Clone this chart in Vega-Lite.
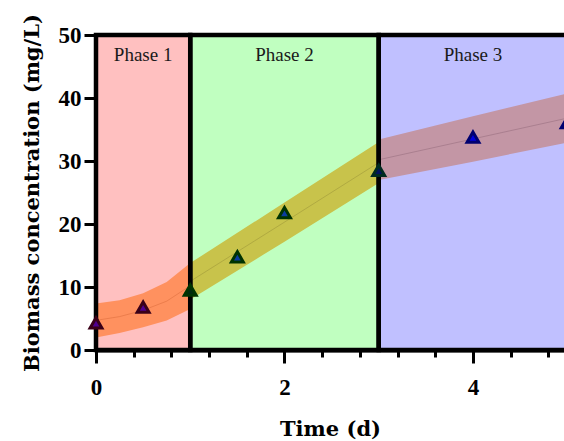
{
  "$schema": "https://vega.github.io/schema/vega-lite/v6.json",
  "autosize": {"type": "none"},
  "padding": {"left": 96, "top": 35, "right": 0, "bottom": 91},
  "width": 468,
  "height": 315,
  "background": "white",
  "config": {"view": {"stroke": null}},
  "datasets": {
    "phases": [
      {"phase": "Phase 1", "start": 0, "end": 1, "labelT": 0.5},
      {"phase": "Phase 2", "start": 1, "end": 3, "labelT": 2},
      {"phase": "Phase 3", "start": 3, "end": 6, "labelT": 4}
    ],
    "bands": [
      {"phase": "Phase 1", "t": 0, "lo": 2.0, "hi": 7.4, "mid": 4.7},
      {"phase": "Phase 1", "t": 0.25, "lo": 2.7, "hi": 7.9, "mid": 5.3},
      {"phase": "Phase 1", "t": 0.5, "lo": 3.6, "hi": 9.0, "mid": 6.3},
      {"phase": "Phase 1", "t": 0.75, "lo": 4.7, "hi": 10.8, "mid": 7.75},
      {"phase": "Phase 1", "t": 1.0, "lo": 6.5, "hi": 13.8, "mid": 10.2},
      {"phase": "Phase 2", "t": 1.0, "lo": 8.0, "hi": 13.8, "mid": 10.9},
      {"phase": "Phase 2", "t": 2.0, "lo": 17.2, "hi": 23.4, "mid": 20.3},
      {"phase": "Phase 2", "t": 3.0, "lo": 26.5, "hi": 33.0, "mid": 29.75},
      {"phase": "Phase 3", "t": 3.0, "lo": 27.0, "hi": 33.4, "mid": 30.2},
      {"phase": "Phase 3", "t": 4.0, "lo": 29.9, "hi": 37.1, "mid": 33.5},
      {"phase": "Phase 3", "t": 5.0, "lo": 32.9, "hi": 40.7, "mid": 36.8},
      {"phase": "Phase 3", "t": 5.5, "lo": 34.4, "hi": 42.5, "mid": 38.45}
    ],
    "points": [
      {"t": 0, "biomass": 4.3, "grp": "p1"},
      {"t": 0.5, "biomass": 6.8, "grp": "p1"},
      {"t": 1, "biomass": 9.5, "grp": "b12"},
      {"t": 1.5, "biomass": 14.8, "grp": "p2"},
      {"t": 2, "biomass": 21.8, "grp": "p2"},
      {"t": 3, "biomass": 28.5, "grp": "b23"},
      {"t": 4, "biomass": 33.8, "grp": "p3"},
      {"t": 5, "biomass": 36.1, "grp": "p3"}
    ]
  },
  "resolve": {"scale": {"color": "independent", "fill": "independent", "stroke": "independent"}, "axis": {"x": "independent"}},
  "layer": [
    {
      "data": {"name": "phases"},
      "mark": {"type": "rect"},
      "encoding": {
        "x": {"field": "start", "type": "quantitative", "scale": {"domain": [0, 4.966], "nice": false, "zero": false},
          "axis": {
            "orient": "bottom",
            "values": [0, 2, 4],
            "format": "d",
            "tickSize": 13, "tickWidth": 3, "tickColor": "black",
            "domainColor": "black", "domainWidth": 4,
            "labelFont": "Liberation Serif", "labelFontWeight": "bold", "labelFontSize": 23, "labelColor": "black",
            "labelPadding": 13, "labelFlush": false, "labelOverlap": false,
            "title": "Time (d)", "titleFont": "DejaVu Serif", "titleFontSize": 21, "titleFontWeight": "bold", "titleColor": "black",
            "titlePadding": 19, "grid": false
          }
        },
        "x2": {"field": "end"},
        "y": {"datum": 0, "type": "quantitative", "scale": {"domain": [0, 50], "nice": false},
          "axis": {
            "values": [0, 10, 20, 30, 40, 50],
            "tickSize": 12, "tickWidth": 3, "tickColor": "black",
            "domainColor": "black", "domainWidth": 4,
            "labelFont": "Liberation Serif", "labelFontWeight": "bold", "labelFontSize": 23, "labelColor": "black",
            "labelPadding": 3, "labelFlush": false, "labelOverlap": false,
            "title": "Biomass concentration (mg/L)", "titleFont": "DejaVu Serif", "titleFontSize": 21, "titleFontWeight": "bold", "titleColor": "black",
            "titlePadding": 16, "grid": false
          }
        },
        "y2": {"datum": 50},
        "color": {"field": "phase", "type": "nominal", "legend": null,
          "scale": {"domain": ["Phase 1", "Phase 2", "Phase 3"], "range": ["#FFC0C0", "#C0FFC0", "#C0C0FF"]}}
      }
    },
    {
      "data": {"name": "bands"},
      "mark": {"type": "area", "opacity": 1},
      "encoding": {
        "x": {"field": "t", "type": "quantitative", "scale": {"domain": [0, 4.966], "nice": false, "zero": false}, "axis": null},
        "y": {"field": "lo", "type": "quantitative", "scale": {"domain": [0, 50], "nice": false}},
        "y2": {"field": "hi"},
        "color": {"field": "phase", "type": "nominal", "legend": null,
          "scale": {"domain": ["Phase 1", "Phase 2", "Phase 3"], "range": ["#FF915F", "#C8C34B", "#C396A5"]}}
      }
    },
    {
      "data": {"name": "bands"},
      "mark": {"type": "line", "strokeWidth": 1, "opacity": 0.6},
      "encoding": {
        "x": {"field": "t", "type": "quantitative", "scale": {"domain": [0, 4.966], "nice": false, "zero": false}, "axis": null},
        "y": {"field": "mid", "type": "quantitative", "scale": {"domain": [0, 50], "nice": false}},
        "color": {"field": "phase", "type": "nominal", "legend": null,
          "scale": {"domain": ["Phase 1", "Phase 2", "Phase 3"], "range": ["#E0703F", "#A09A3A", "#9A7080"]}}
      }
    },
    {
      "data": {"name": "phases"},
      "mark": {"type": "rect", "fillOpacity": 0, "stroke": "black", "strokeWidth": 4.5},
      "encoding": {
        "x": {"field": "start", "type": "quantitative", "scale": {"domain": [0, 4.966], "nice": false, "zero": false},
          "axis": {
            "orient": "bottom",
            "values": [0.4, 0.8, 1.2, 1.6, 2.4, 2.8, 3.2, 3.6, 4.4, 4.8],
            "labels": false, "domain": false, "grid": false, "title": null,
            "tickSize": 7, "tickWidth": 3, "tickColor": "black"
          }
        },
        "x2": {"field": "end"},
        "y": {"datum": 0, "type": "quantitative", "scale": {"domain": [0, 50], "nice": false}},
        "y2": {"datum": 50}
      }
    },
    {
      "data": {"name": "points"},
      "mark": {"type": "point", "shape": "triangle-up", "size": 140, "strokeWidth": 3, "filled": true, "opacity": 1},
      "encoding": {
        "x": {"field": "t", "type": "quantitative", "scale": {"domain": [0, 4.966], "nice": false, "zero": false}, "axis": null},
        "y": {"field": "biomass", "type": "quantitative", "scale": {"domain": [0, 50], "nice": false}},
        "fill": {"field": "grp", "type": "nominal", "legend": null,
          "scale": {"domain": ["p1", "b12", "p2", "b23", "p3"], "range": ["#500090", "#002A10", "#0A3CA0", "#001060", "#0000E0"]}},
        "stroke": {"field": "grp", "type": "nominal", "legend": null,
          "scale": {"domain": ["p1", "b12", "p2", "b23", "p3"], "range": ["#3A0018", "#003300", "#003300", "#002A20", "#000070"]}}
      }
    },
    {
      "data": {"name": "phases"},
      "mark": {"type": "text", "font": "Liberation Serif", "fontSize": 19, "color": "#1a1a1a", "baseline": "alphabetic", "align": "center"},
      "encoding": {
        "x": {"field": "labelT", "type": "quantitative", "scale": {"domain": [0, 4.966], "nice": false, "zero": false}, "axis": null},
        "y": {"datum": 45.9, "type": "quantitative", "scale": {"domain": [0, 50], "nice": false}},
        "text": {"field": "phase"}
      }
    }
  ]
}
